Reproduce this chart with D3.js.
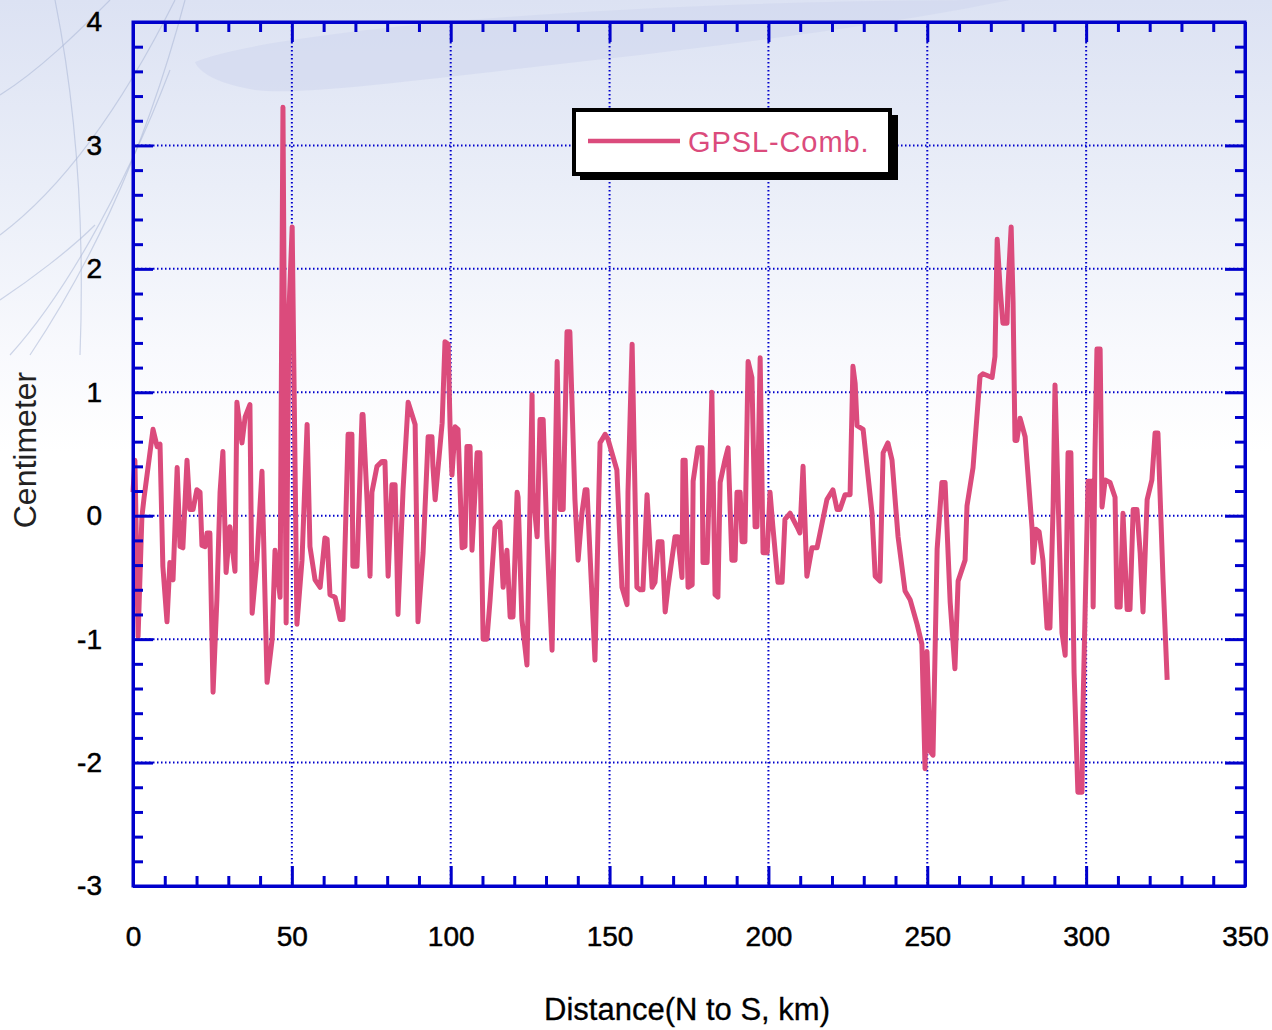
<!DOCTYPE html>
<html>
<head>
<meta charset="utf-8">
<script src="https://cdn.jsdelivr.net/npm/d3@7"></script>
<style>
  html, body { margin: 0; padding: 0; background: #ffffff; }
  svg { display: block; }
</style>
</head>
<body>
<svg id="chart" width="1272" height="1030"></svg>
<script>
// ---- data ----
const distanceKm = [
  0.0, 0.6, 1.6, 2.8, 3.5, 6.3, 7.6, 8.5, 9.4, 10.7, 11.6, 12.6, 13.9, 14.8, 15.7, 17.0, 17.9, 18.9, 20.1, 21.1,
  21.7, 22.7, 23.3, 24.2, 25.2, 26.4, 27.4, 28.3, 29.3, 30.5, 32.1, 32.7, 34.3, 35.3, 36.8, 37.5, 39.0, 40.6, 42.2, 43.8,
  44.7, 46.3, 47.2, 48.2, 49.1, 50.1, 51.6, 53.2, 54.8, 55.7, 57.3, 58.9, 60.4, 61.1, 62.0, 63.6, 65.2, 66.1, 67.7, 68.9,
  69.2, 70.5, 72.1, 72.4, 73.7, 74.6, 75.2, 76.8, 78.4, 79.3, 80.3, 81.5, 82.5, 83.1, 83.4, 85.0, 86.6, 88.8, 89.7, 91.3,
  92.9, 94.1, 94.4, 95.1, 97.3, 98.2, 99.2, 99.8, 100.4, 101.4, 102.3, 103.6, 104.5, 105.1, 106.1, 106.7, 108.3, 109.2, 110.2, 111.4,
  112.4, 113.9, 115.5, 116.5, 117.7, 118.7, 119.6, 120.9, 121.2, 122.4, 124.0, 125.6, 125.9, 127.2, 128.1, 129.1, 130.3, 131.9, 133.5, 134.4,
  135.4, 136.6, 137.5, 139.1, 140.1, 141.3, 142.3, 142.9, 145.4, 147.0, 148.6, 149.5, 152.3, 153.9, 155.5, 155.8, 157.1, 158.0, 158.6, 159.6,
  160.5, 161.8, 163.4, 164.3, 165.3, 166.5, 167.5, 168.4, 170.6, 171.5, 172.8, 173.1, 173.8, 174.7, 176.0, 176.3, 177.8, 179.1, 179.4, 180.7,
  182.2, 183.2, 184.1, 184.8, 186.3, 187.3, 188.5, 189.5, 190.1, 191.1, 191.7, 192.6, 193.6, 194.8, 195.8, 196.4, 197.4, 198.3, 199.6, 200.5,
  201.4, 203.0, 204.3, 205.2, 206.8, 209.0, 209.9, 210.9, 212.1, 213.7, 215.3, 218.4, 220.3, 221.6, 222.5, 224.1, 225.7, 226.6, 227.3, 227.9,
  229.8, 232.6, 233.6, 235.1, 236.1, 237.6, 238.9, 240.8, 243.0, 244.6, 246.8, 248.3, 249.3, 249.9, 250.9, 251.8, 253.1, 254.6, 255.6, 257.2,
  258.7, 259.7, 261.9, 262.5, 264.4, 266.6, 267.5, 270.4, 271.3, 272.0, 272.9, 273.8, 275.1, 275.4, 276.4, 277.0, 277.6, 278.2, 279.2, 280.8,
  283.0, 283.3, 284.2, 285.2, 286.4, 287.7, 288.6, 289.6, 290.2, 291.1, 292.4, 293.4, 294.3, 295.2, 296.2, 297.4, 298.7, 299.0, 299.7, 300.6,
  301.9, 302.2, 302.8, 303.4, 304.4, 305.0, 306.0, 307.5, 309.1, 309.7, 310.7, 311.6, 312.9, 313.8, 314.8, 316.0, 317.0, 317.9, 319.2, 320.7,
  321.7, 322.6, 324.2, 325.5
];
const gpslComb = [
  0.19, 0.45, -0.98, -0.01, 0.15, 0.70, 0.56, 0.58, -0.41, -0.86, -0.38, -0.52, 0.39, -0.25, -0.26, 0.45, 0.05, 0.05, 0.21, 0.19,
  -0.24, -0.25, -0.14, -0.14, -1.43, -0.68, 0.19, 0.52, -0.46, -0.09, -0.45, 0.92, 0.59, 0.80, 0.90, -0.79, -0.36, 0.36, -1.35, -1.00,
  -0.28, -0.66, 3.31, -0.87, 1.67, 2.34, -0.88, -0.36, 0.74, -0.25, -0.52, -0.58, -0.18, -0.19, -0.64, -0.66, -0.84, -0.84, 0.66, 0.66,
  -0.41, -0.41, 0.82, 0.82, 0.11, -0.49, 0.19, 0.40, 0.44, 0.44, -0.49, 0.25, 0.25, -0.41, -0.80, 0.21, 0.92, 0.74, -0.86, -0.30,
  0.64, 0.64, 0.40, 0.13, 0.75, 1.41, 1.39, 0.72, 0.33, 0.72, 0.70, -0.26, -0.25, 0.56, 0.56, -0.28, 0.51, 0.51, -1.00, -1.00,
  -0.68, -0.10, -0.05, -0.58, -0.28, -0.82, -0.82, 0.19, 0.15, -0.84, -1.21, 0.98, 0.19, -0.17, 0.78, 0.78, -0.19, -1.09, 1.25, 0.05,
  0.05, 1.49, 1.49, 0.13, -0.36, 0.02, 0.21, 0.21, -1.17, 0.59, 0.66, 0.62, 0.37, -0.58, -0.72, 0.19, 1.39, 0.19, -0.58, -0.60,
  -0.60, 0.17, -0.58, -0.54, -0.21, -0.21, -0.78, -0.58, -0.17, -0.17, -0.50, 0.45, 0.45, -0.58, -0.56, 0.28, 0.55, 0.55, -0.38, -0.38,
  1.00, -0.64, -0.66, 0.27, 0.45, 0.55, -0.36, -0.36, 0.19, 0.19, -0.21, -0.21, 1.25, 1.12, -0.09, -0.09, 1.28, -0.30, -0.30, 0.19,
  -0.09, -0.54, -0.54, -0.03, 0.02, -0.09, -0.14, 0.40, -0.49, -0.26, -0.26, 0.13, 0.21, 0.05, 0.05, 0.17, 0.17, 1.21, 1.07, 0.73,
  0.70, 0.02, -0.49, -0.53, 0.51, 0.59, 0.45, -0.17, -0.61, -0.68, -0.88, -1.04, -2.05, -1.10, -1.91, -1.94, -0.27, 0.27, 0.27, -0.70,
  -1.24, -0.53, -0.36, 0.08, 0.39, 1.13, 1.15, 1.12, 1.29, 2.24, 1.85, 1.56, 1.56, 1.85, 2.34, 1.73, 0.61, 0.61, 0.79, 0.64,
  -0.11, -0.38, -0.11, -0.13, -0.36, -0.91, -0.91, 0.07, 1.06, 0.21, -0.95, -1.13, 0.51, 0.51, -1.27, -2.24, -2.24, -1.57, -0.74, 0.28,
  0.28, -0.74, 0.53, 1.35, 1.35, 0.07, 0.29, 0.27, 0.15, -0.74, -0.74, 0.02, -0.76, -0.76, 0.05, 0.05, -0.30, -0.78, 0.13, 0.29,
  0.67, 0.67, -0.52, -1.33
];
const xMajorTicks = [0, 50, 100, 150, 200, 250, 300, 350];
const xMinorTicks = d3.range(0, 351, 10).filter(v => v % 50 !== 0);
const yMajorTicks = [-3, -2, -1, 0, 1, 2, 3, 4];
const yMinorTicks = d3.range(-3, 4.0001, 0.2).map(v => +v.toFixed(1)).filter(v => Math.abs(v - Math.round(v)) > 1e-6);
const seriesName = "GPSL-Comb.";
const xTitle = "Distance(N to S, km)";
const yTitle = "Centimeter";

// ---- drawing ----
(function draw() {
const svg = d3.select("#chart");
const W = 1272, H = 1030;
const pL = 133, pR = 1245, pT = 22, pB = 886;
const axisColor = "#0000cc";
const lineColor = "#db4b7c";
const font = "Liberation Sans, Arial, sans-serif";

const x = d3.scaleLinear().domain([0, 350]).range([pL, pR]);
const y = d3.scaleLinear().domain([-3, 4]).range([pB, pT]);

// background
const defs = svg.append("defs");
const bg = defs.append("linearGradient").attr("id", "bg").attr("x1", 0).attr("y1", 0).attr("x2", 0).attr("y2", 1);
bg.append("stop").attr("offset", "0%").attr("stop-color", "#dce2f3");
bg.append("stop").attr("offset", "18%").attr("stop-color", "#eaeef8");
bg.append("stop").attr("offset", "34%").attr("stop-color", "#f8f9fd");
bg.append("stop").attr("offset", "44%").attr("stop-color", "#ffffff");
bg.append("stop").attr("offset", "100%").attr("stop-color", "#ffffff");
svg.append("rect").attr("width", W).attr("height", H).attr("fill", "url(#bg)");

// decorative swoosh at top
svg.append("path")
  .attr("d", "M195,62 C240,42 420,20 620,10 C760,2 900,0 1010,0 C900,22 760,42 560,64 C420,80 300,96 255,90 C220,84 200,74 195,62 Z")
  .attr("fill", "#d0d7ee").attr("opacity", 0.6);
// decorative thin curves at upper-left
const curves = [
  "M0,95 C40,70 80,30 110,0",
  "M0,235 C60,190 120,110 175,0",
  "M55,0 C75,100 85,220 80,355",
  "M10,355 C60,300 120,200 170,70",
  "M30,355 C80,280 140,170 185,0",
  "M0,300 C30,280 70,250 95,225"
];
svg.append("g").selectAll("path").data(curves).join("path")
  .attr("d", d => d).attr("fill", "none").attr("stroke", "#a9b6d6").attr("stroke-width", 1.2).attr("opacity", 0.55);

// gridlines
const grid = svg.append("g");
grid.selectAll(".vg").data(xMajorTicks.filter(v => v > 0 && v < 350)).join("line")
  .attr("x1", d => x(d)).attr("x2", d => x(d)).attr("y1", pT).attr("y2", pB)
  .attr("stroke", axisColor).attr("stroke-width", 2).attr("stroke-dasharray", "1.5,2.5");
grid.selectAll(".hg").data(yMajorTicks.filter(v => v > -3 && v < 4)).join("line")
  .attr("x1", pL).attr("x2", pR).attr("y1", d => y(d)).attr("y2", d => y(d))
  .attr("stroke", axisColor).attr("stroke-width", 2).attr("stroke-dasharray", "1.5,2.5");

// data line
const line = d3.line().x((d, i) => x(distanceKm[i])).y(d => y(d));
svg.append("path").datum(gpslComb)
  .attr("d", line)
  .attr("fill", "none").attr("stroke", lineColor).attr("stroke-width", 5)
  .attr("stroke-linejoin", "round").attr("stroke-linecap", "butt");

// axes
function styleAxis(g) {
  g.selectAll("path.domain").attr("stroke", axisColor).attr("stroke-width", 3);
  g.selectAll(".tick line").attr("stroke", axisColor).attr("stroke-width", 3);
  g.selectAll(".tick text").attr("fill", "#000").attr("stroke", "#000").attr("stroke-width", 0.5)
    .attr("font-family", font).attr("font-size", 28);
}
const fmt = d => String(d);
svg.append("g").attr("transform", `translate(0,${pB})`)
  .call(d3.axisBottom(x).tickValues(xMajorTicks).tickSize(-20).tickSizeOuter(0).tickPadding(40).tickFormat(fmt))
  .call(styleAxis);
svg.append("g").attr("transform", `translate(0,${pB})`)
  .call(d3.axisBottom(x).tickValues(xMinorTicks).tickSize(-10).tickSizeOuter(0).tickFormat(""))
  .call(styleAxis);
svg.append("g").attr("transform", `translate(0,${pT})`)
  .call(d3.axisTop(x).tickValues(xMajorTicks).tickSize(-20).tickSizeOuter(0).tickFormat(""))
  .call(styleAxis);
svg.append("g").attr("transform", `translate(0,${pT})`)
  .call(d3.axisTop(x).tickValues(xMinorTicks).tickSize(-10).tickSizeOuter(0).tickFormat(""))
  .call(styleAxis);
svg.append("g").attr("transform", `translate(${pL},0)`)
  .call(d3.axisLeft(y).tickValues(yMajorTicks).tickSize(-20).tickSizeOuter(0).tickPadding(31).tickFormat(fmt))
  .call(styleAxis);
svg.append("g").attr("transform", `translate(${pL},0)`)
  .call(d3.axisLeft(y).tickValues(yMinorTicks).tickSize(-10).tickSizeOuter(0).tickFormat(""))
  .call(styleAxis);
svg.append("g").attr("transform", `translate(${pR},0)`)
  .call(d3.axisRight(y).tickValues(yMajorTicks).tickSize(-20).tickSizeOuter(0).tickFormat(""))
  .call(styleAxis);
svg.append("g").attr("transform", `translate(${pR},0)`)
  .call(d3.axisRight(y).tickValues(yMinorTicks).tickSize(-10).tickSizeOuter(0).tickFormat(""))
  .call(styleAxis);

// frame
svg.append("rect").attr("x", pL).attr("y", pT).attr("width", pR - pL).attr("height", pB - pT)
  .attr("fill", "none").attr("stroke", axisColor).attr("stroke-width", 3);

// axis titles
svg.append("text").attr("x", 687).attr("y", 1020).attr("text-anchor", "middle")
  .attr("font-family", font).attr("font-size", 31).attr("fill", "#000")
  .attr("stroke", "#000").attr("stroke-width", 0.3)
  .text(xTitle);
svg.append("text").attr("transform", "translate(25,450) rotate(-90)").attr("text-anchor", "middle")
  .attr("dominant-baseline", "central")
  .attr("font-family", font).attr("font-size", 32).attr("fill", "#222")
  .text(yTitle);

// legend
const lg = svg.append("g");
lg.append("rect").attr("x", 580).attr("y", 115).attr("width", 318).attr("height", 65).attr("fill", "#000");
lg.append("rect").attr("x", 574).attr("y", 110).attr("width", 316).attr("height", 64)
  .attr("fill", "#fff").attr("stroke", "#000").attr("stroke-width", 4);
lg.append("line").attr("x1", 588).attr("x2", 680).attr("y1", 141).attr("y2", 141)
  .attr("stroke", lineColor).attr("stroke-width", 4.5);
lg.append("text").attr("x", 688).attr("y", 152)
  .attr("font-family", font).attr("font-size", 29).attr("letter-spacing", 0.9).attr("fill", lineColor)
  .text(seriesName);
})();
</script>
</body>
</html>
